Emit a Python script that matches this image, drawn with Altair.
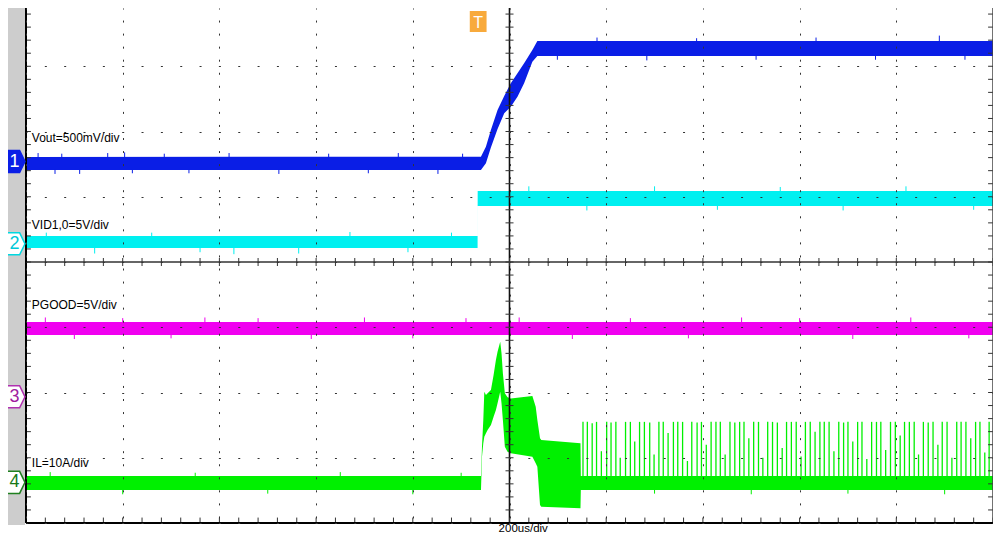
import altair as alt
import numpy as np
import pandas as pd

FONT = "Liberation Sans"
X_DOM = [-1000, 1000]      # time, µs (200 µs/div, 10 div)
Y_DOM = [-4.0, 3.893]      # screen divisions (8 div, top row hidden by page margin)
W, H = 967, 515

# ---------------- traces: envelopes in screen divisions ----------------
ch1_t  = [-1000, -59.1, -48.8, -38.5, -24.7, -10.9, 2.7, 16.5, 30.2, 47.3, 57.6, 1000]
ch1_hi = [1.609, 1.614, 1.767, 2.023, 2.330, 2.544, 2.739, 2.892, 3.045, 3.249, 3.387, 3.387]
ch1_lo = [1.410, 1.410, 1.514, 1.756, 2.038, 2.279, 2.380, 2.533, 2.739, 3.070, 3.157, 3.157]

ch2_t  = [-1000, -66.0, -65.8, 1000]
ch2_hi = [0.398, 0.398, 1.088, 1.088]
ch2_lo = [0.215, 0.215, 0.858, 0.858]

ch3_t  = [-1000, 1000]
ch3_hi = [-0.920, -0.920]
ch3_lo = [-1.119, -1.119]

ch4_t  = [-1000, -59.0, -56.9, -54.2, -52.1, -48.7, -45.3, -38.4, -32.9, -28.1, -24.7, -19.2,
          -16.5, -13.7, -9.6, -4.1, 2.7, 47.3, 54.2, 57.6, 63.1, 65.8, 146.8, 147.5, 1000]
ch4_hi = [-3.280, -3.280, -2.830, -2.421, -1.988, -2.038, -2.013, -1.962, -1.732, -1.502, -1.374, -1.221,
          -1.400, -1.706, -2.013, -2.074, -2.090, -2.054, -2.217, -2.421, -2.702, -2.728, -2.779, -3.280, -3.280]
ch4_lo = [-3.494, -3.494, -2.984, -2.779, -2.677, -2.626, -2.575, -2.498, -2.371, -2.268, -2.166, -1.988,
          -2.166, -2.421, -2.830, -2.907, -2.932, -2.984, -3.085, -3.137, -3.724, -3.750, -3.775, -3.494, -3.494]

# IL switching pulses after the transient
ch4_pulse_t = [152, 161, 171, 180, 190, 201, 210, 220, 229, 240,
               250, 259, 269, 279, 290, 299, 309, 318, 328, 339,
               348, 358, 368, 377, 388, 397, 407, 417, 427, 436,
               446, 456, 466, 476, 485, 495, 505, 515, 524, 534,
               544, 554, 564, 573, 583, 593, 603, 612, 622, 632,
               642, 651, 661, 671, 681, 691, 700, 710, 720, 729,
               739, 749, 759, 768, 778, 788, 798, 808, 817, 827,
               837, 846, 856, 866, 876, 886, 895, 905, 915, 925,
               934, 944, 954, 964, 973, 983, 992]
ch4_pulse_top = [-2.45, -2.45, -2.47, -2.45, -2.90, -2.45, -2.46, -2.45, -3.00, -2.45,
                 -2.45, -2.75, -2.45, -2.45, -2.46, -2.95, -2.45, -2.45, -2.62, -2.45,
                 -2.45, -2.45, -3.05, -2.45, -2.46, -2.45, -2.80, -2.45, -2.45, -2.45,
                 -2.95, -2.45, -2.46, -2.45, -2.45, -2.70, -2.45, -2.45, -3.00, -2.45,
                 -2.45, -2.46, -2.85, -2.45, -2.45, -2.45, -2.98, -2.45, -2.45, -2.60,
                 -2.45, -2.45, -2.45, -2.90, -2.45, -2.46, -2.45, -2.75, -2.45, -2.45,
                 -3.02, -2.45, -2.45, -2.45, -2.88, -2.45, -2.45, -2.66, -2.45, -2.45,
                 -2.45, -2.95, -2.45, -2.46, -2.45, -2.80, -2.45, -2.45, -3.00, -2.45,
                 -2.45, -2.45, -2.70, -2.45, -2.45, -2.92, -2.45]
ch4_pulse_base = -3.28

# noise spikes sticking out of the bands
ch1_spk_t = [-975, -940, -926, -889, -831, -796, -780, -714, -663, -580, -477, -374, -292,
             -230, -148, -97, 99, 181, 284, 387, 510, 634, 757, 889, 942]
ch1_spk_a = [1.60, 1.42, 1.60, 1.42, 1.60, 1.60, 1.42, 1.60, 1.42, 1.60, 1.42, 1.60, 1.42,
             1.60, 1.42, 1.60, 3.16, 3.38, 3.16, 3.38, 3.16, 3.38, 3.16, 3.38, 3.16]
ch1_spk_b = [1.67, 1.35, 1.66, 1.35, 1.67, 1.68, 1.36, 1.66, 1.36, 1.67, 1.35, 1.66, 1.36,
             1.67, 1.35, 1.66, 3.10, 3.44, 3.09, 3.43, 3.10, 3.44, 3.10, 3.47, 3.10]

ch2_spk_t = [-958, -858, -740, -640, -570, -436, -330, -210, -120, 40, 160, 300, 430, 560, 690, 820, 960]
ch2_spk_a = [0.39, 0.22, 0.39, 0.22, 0.22, 0.22, 0.39, 0.22, 0.39, 1.08, 0.86, 1.08, 0.86, 1.08, 0.86, 1.08, 0.86]
ch2_spk_b = [0.45, 0.13, 0.45, 0.15, 0.12, 0.13, 0.46, 0.15, 0.45, 1.16, 0.79, 1.16, 0.80, 1.15, 0.79, 1.16, 0.80]

ch3_spk_t = [-960, -900, -800, -700, -630, -520, -410, -300, -200, -90, 20, 130, 250, 370, 480, 600, 710, 830, 950]
ch3_spk_a = [-0.93, -1.11, -0.93, -1.11, -0.93, -0.93, -1.11, -0.93, -1.11, -0.93, -0.93, -1.11, -0.93,
             -1.11, -0.93, -0.93, -1.11, -0.93, -1.11]
ch3_spk_b = [-0.85, -1.18, -0.86, -1.17, -0.85, -0.86, -1.18, -0.85, -1.17, -0.86, -0.85, -1.18, -0.86,
             -1.17, -0.85, -0.86, -1.18, -0.85, -1.17]

ch4_spk_t = [-950, -800, -650, -500, -350, -200, -100, 300, 500, 700, 900]
ch4_spk_a = [-3.29, -3.48, -3.29, -3.48, -3.29, -3.48, -3.29, -3.48, -3.48, -3.48, -3.48]
ch4_spk_b = [-3.22, -3.56, -3.23, -3.55, -3.22, -3.56, -3.23, -3.55, -3.56, -3.55, -3.56]

# ---------------- annotations ----------------
label_text = ["Vout=500mV/div", "VID1,0=5V/div", "PGOOD=5V/div", "IL=10A/div"]
label_y = [1.839, 0.506, -0.720, -3.142]
label_t = -988

marker_num = ["1", "2", "3", "4"]
marker_y = [1.540, 0.279, -2.066, -3.377]
marker_fill = ["#0a1ee6", "#ffffff", "#ffffff", "#ffffff"]
marker_stroke = ["#0a1ee6", "#00d8e0", "#b030b0", "#208020"]
marker_textcol = ["#ffffff", "#00c8d8", "#a020a0", "#187818"]

trig_t, trig_y = -64.8, 3.686
time_label = "200us/div"

COL = {"1": "#0a1ee6", "2": "#00f0f0", "3": "#f000f0", "4": "#00f000"}

xs = alt.Scale(domain=X_DOM, nice=False, zero=False)
ys = alt.Scale(domain=Y_DOM, nice=False, zero=False)
xaxis = alt.Axis(values=list(range(-1000, 1001, 200)), grid=True, gridDash=[2, 11.05], gridDashOffset=1,
                 gridColor="#333333", gridWidth=1, gridOpacity=1, labels=False, ticks=False,
                 domain=False, title=None, zindex=1)
yaxis = alt.Axis(values=[-4, -3, -2, -1, 0, 1, 2, 3], grid=True, gridDash=[2, 17.34], gridDashOffset=1,
                 gridColor="#333333", gridWidth=1, gridOpacity=1, labels=False, ticks=False,
                 domain=False, title=None, zindex=1)


def X(f="t"):
    return alt.X(f"{f}:Q", scale=xs, axis=xaxis)


def Y(f):
    return alt.Y(f"{f}:Q", scale=ys, axis=yaxis)


def band(t, hi, lo, color):
    df = pd.DataFrame({"t": t, "hi": hi, "lo": lo})
    return alt.Chart(df).mark_area(color=color, opacity=1, interpolate="linear").encode(
        x=X(), y=Y("hi"), y2="lo")


def spikes(t, a, b, color, width=1.0, op=1.0):
    df = pd.DataFrame({"t": t, "a": a, "b": b})
    return alt.Chart(df).mark_rule(color=color, strokeWidth=width, opacity=op).encode(
        x=X(), y=Y("a"), y2="b")


layers = []

# grey side panel
panel = pd.DataFrame({"t": [0]})
layers.append(alt.Chart(panel).mark_rect(color="#cdcdcd").encode(
    x=alt.value(-18), x2=alt.value(-1), y=alt.value(-10), y2=alt.value(517)))

# traces
layers.append(band(ch2_t, ch2_hi, ch2_lo, COL["2"]))
layers.append(spikes(ch2_spk_t, ch2_spk_a, ch2_spk_b, COL["2"]))
layers.append(band(ch1_t, ch1_hi, ch1_lo, COL["1"]))
layers.append(spikes(ch1_spk_t, ch1_spk_a, ch1_spk_b, COL["1"]))
layers.append(band(ch3_t, ch3_hi, ch3_lo, COL["3"]))
layers.append(spikes(ch3_spk_t, ch3_spk_a, ch3_spk_b, COL["3"]))
layers.append(spikes(ch4_pulse_t, ch4_pulse_top, [ch4_pulse_base] * len(ch4_pulse_t), COL["4"], 1.3, 1.0))
layers.append(band(ch4_t, ch4_hi, ch4_lo, COL["4"]))
layers.append(spikes(ch4_spk_t, ch4_spk_a, ch4_spk_b, COL["4"]))

# centre cross and its sub-division ticks
sub_y = np.round(np.arange(-4.0, 3.85, 0.2), 3)
sub_t = np.arange(-1000, 1001, 40)
layers.append(alt.Chart(pd.DataFrame({"t": [0], "a": [Y_DOM[0]], "b": [Y_DOM[1]]})).mark_rule(
    color="#111111", strokeWidth=1.6).encode(x=X(), y=Y("a"), y2="b"))
layers.append(alt.Chart(pd.DataFrame({"t": [X_DOM[0]], "b": [X_DOM[1]], "y": [0]})).mark_rule(
    color="#333333", strokeWidth=1.6).encode(x=X(), x2="b", y=Y("y")))
htick = "M-1,0L1,0"
vtick = "M0,-1L0,1"
layers.append(alt.Chart(pd.DataFrame({"t": 0, "y": sub_y})).mark_point(
    shape=htick, filled=False, color="#333333", strokeWidth=1, size=64, opacity=1).encode(x=X(), y=Y("y")))
layers.append(alt.Chart(pd.DataFrame({"t": sub_t, "y": 0})).mark_point(
    shape=vtick, filled=False, color="#333333", strokeWidth=1, size=64, opacity=1).encode(x=X(), y=Y("y")))
# edge ticks
layers.append(alt.Chart(pd.DataFrame({"t": -995, "y": sub_y})).mark_point(
    shape=htick, filled=False, color="#333333", strokeWidth=1, size=25, opacity=1).encode(x=X(), y=Y("y")))
layers.append(alt.Chart(pd.DataFrame({"t": 995, "y": sub_y})).mark_point(
    shape=htick, filled=False, color="#333333", strokeWidth=1, size=25, opacity=1).encode(x=X(), y=Y("y")))
layers.append(alt.Chart(pd.DataFrame({"t": sub_t, "y": -3.955})).mark_point(
    shape=vtick, filled=False, color="#333333", strokeWidth=1, size=25, opacity=1).encode(x=X(), y=Y("y")))

# frame (left, bottom black, right grey)
layers.append(alt.Chart(pd.DataFrame({"t": [X_DOM[0]], "a": [Y_DOM[0]], "b": [Y_DOM[1]]})).mark_rule(
    color="#000000", strokeWidth=2).encode(x=X(), y=Y("a"), y2="b"))
layers.append(alt.Chart(pd.DataFrame({"t": [X_DOM[1]], "a": [Y_DOM[0]], "b": [Y_DOM[1]]})).mark_rule(
    color="#444444", strokeWidth=1.5).encode(x=X(), y=Y("a"), y2="b"))
layers.append(alt.Chart(pd.DataFrame({"t": [X_DOM[0]], "b": [X_DOM[1]], "y": [Y_DOM[0]]})).mark_rule(
    color="#000000", strokeWidth=2).encode(x=X(), x2="b", y=Y("y")))

# channel labels
lab = pd.DataFrame({"t": label_t, "y": label_y, "txt": label_text})
layers.append(alt.Chart(lab).mark_text(align="left", baseline="alphabetic", font=FONT, fontSize=12,
                                       color="#000000").encode(x=X(), y=Y("y"), text="txt:N"))

# channel ground markers
mk = pd.DataFrame({"y": marker_y, "n": marker_num, "f": marker_fill, "s": marker_stroke, "c": marker_textcol})
layers.append(alt.Chart(mk).mark_point(
    shape="M-0.75,-0.92L0.3,-0.92L0.75,0L0.3,0.92L-0.75,0.92Z", size=576, filled=True, strokeWidth=1.5,
    opacity=1).encode(x=alt.value(-10), y=Y("y"), fill=alt.Fill("f:N", scale=None),
                      stroke=alt.Stroke("s:N", scale=None)))
layers.append(alt.Chart(mk).mark_text(font=FONT, fontSize=18, align="center", baseline="middle").encode(
    x=alt.value(-11.5), y=Y("y"), text="n:N", color=alt.Color("c:N", scale=None)))

# trigger marker
tr = pd.DataFrame({"t": [trig_t], "y": [trig_y], "txt": ["T"]})
layers.append(alt.Chart(tr).mark_point(shape="M-0.8,-1L0.8,-1L0.8,1L-0.8,1Z", size=441, filled=True,
                                       color="#f8aa3c", opacity=1).encode(x=X(), y=Y("y")))
layers.append(alt.Chart(tr).mark_text(font=FONT, fontSize=16, color="#ffffff", align="center",
                                      baseline="middle", dy=1).encode(x=X(), y=Y("y"), text="txt:N"))

# time base label
tb = pd.DataFrame({"t": [28.4], "txt": [time_label]})
layers.append(alt.Chart(tb).mark_text(font=FONT, fontSize=11.5, color="#000000", align="center",
                                      baseline="bottom").encode(x=X(), y=alt.value(526), text="txt:N"))

chart = alt.layer(*layers).properties(
    width=W, height=H, autosize="none",
    padding={"left": 18, "top": 0, "right": 0, "bottom": 11},
    background="#ffffff",
).configure_view(stroke="transparent")

chart.save("out.html", embed_options={"renderer": "svg", "actions": False})
